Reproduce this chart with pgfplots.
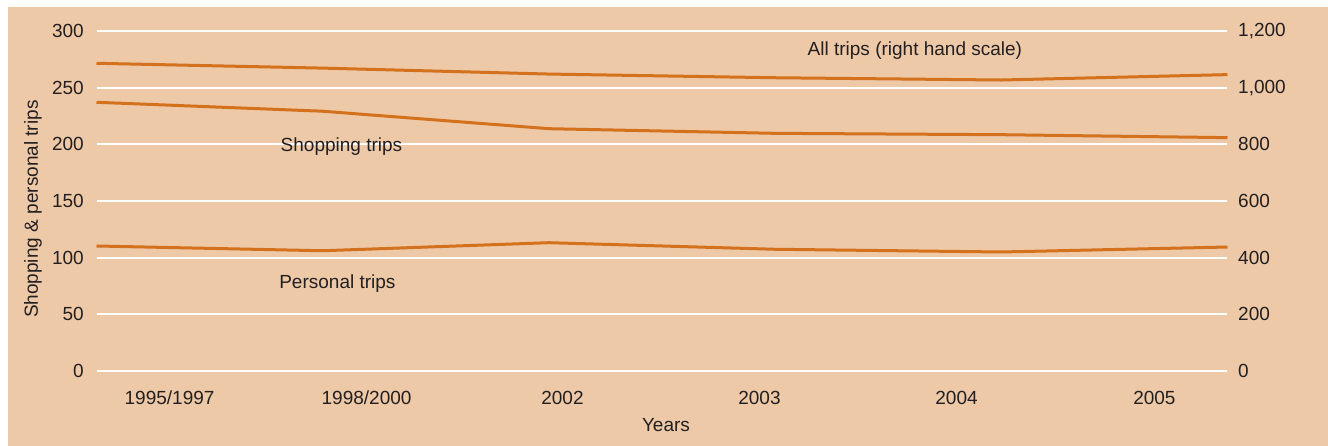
\documentclass[border=0pt]{standalone}
\usepackage{pgfplots}
\pgfplotsset{compat=1.18}
\usepackage{fontspec}
\setmainfont{Liberation Sans}
\definecolor{panel}{RGB}{237,201,168}
\definecolor{trend}{RGB}{212,113,28}
\definecolor{ink}{RGB}{35,31,32}

\pgfplotstableread{
x  shopping personal
0  237.1    110.3
1  229.2    106.1
2  213.8    113.2
3  209.7    107.4
4  208.5    105.0
5  205.9    109.4
}\tripsleft
\pgfplotstableread{
x  all
0  1086
1  1069
2  1048
3  1035
4  1027
5  1046
}\tripsright

\pgfplotsset{
  tripsbase/.style={
    scale only axis,
    width=1131pt, height=340pt,
    at={(96.5pt,75pt)}, anchor=south west,
    xmin=0, xmax=5,
    axis line style={draw=none},
    major tick length=0pt,
    tick label style={text=ink},
    /pgf/number format/assume math mode=true,
    /pgf/number format/1000 sep={,},
    clip=false,
  },
}

\begin{document}
\fontsize{19}{23}\selectfont
\begin{tikzpicture}
  \fill[white] (0pt,0pt) rectangle (1328pt,446pt);
  \fill[panel] (8pt,0pt) rectangle (1328pt,439pt);

  % left scale: shopping and personal trips
  \begin{axis}[tripsbase,
    ymin=0, ymax=300,
    ytick={0,50,...,300},
    ymajorgrids,
    grid style={white, line width=2pt},
    xtick={0.323,1.194,2.060,2.931,3.802,4.677},
    xticklabels={1995/1997,1998/2000,2002,2003,2004,2005},
    xticklabel style={anchor=north, inner sep=0pt, yshift=-20pt},
    yticklabel style={anchor=east, inner sep=0pt, xshift=-12.5pt},
    xlabel={Years},
    xlabel style={at={(axis description cs:0.5035,-0.159)}, anchor=center, text=ink},
    ylabel={Shopping \& personal trips},
    ylabel style={at={(axis description cs:-0.0561,0.476)}, anchor=center, rotate=0, text=ink},
  ]
    \addplot[trend, line width=3pt, line join=round] table[x=x, y=shopping] {\tripsleft};
    \addplot[trend, line width=3pt, line join=round] table[x=x, y=personal] {\tripsleft};
    \node[text=ink, anchor=base] at (axis cs:1.083,194.1) {Shopping trips};
    \node[text=ink, anchor=base] at (axis cs:1.065,73.0) {Personal trips};
    \node[text=ink, anchor=base] at (axis cs:3.618,278.8) {All trips (right hand scale)};
  \end{axis}

  % right scale: all trips
  \begin{axis}[tripsbase,
    ymin=0, ymax=1200,
    ytick={0,200,...,1200},
    axis y line*=right,
    xtick=\empty,
    yticklabel style={anchor=west, inner sep=0pt, xshift=10.5pt},
  ]
    \addplot[trend, line width=3pt, line join=round] table[x=x, y=all] {\tripsright};
  \end{axis}
\end{tikzpicture}
\end{document}
